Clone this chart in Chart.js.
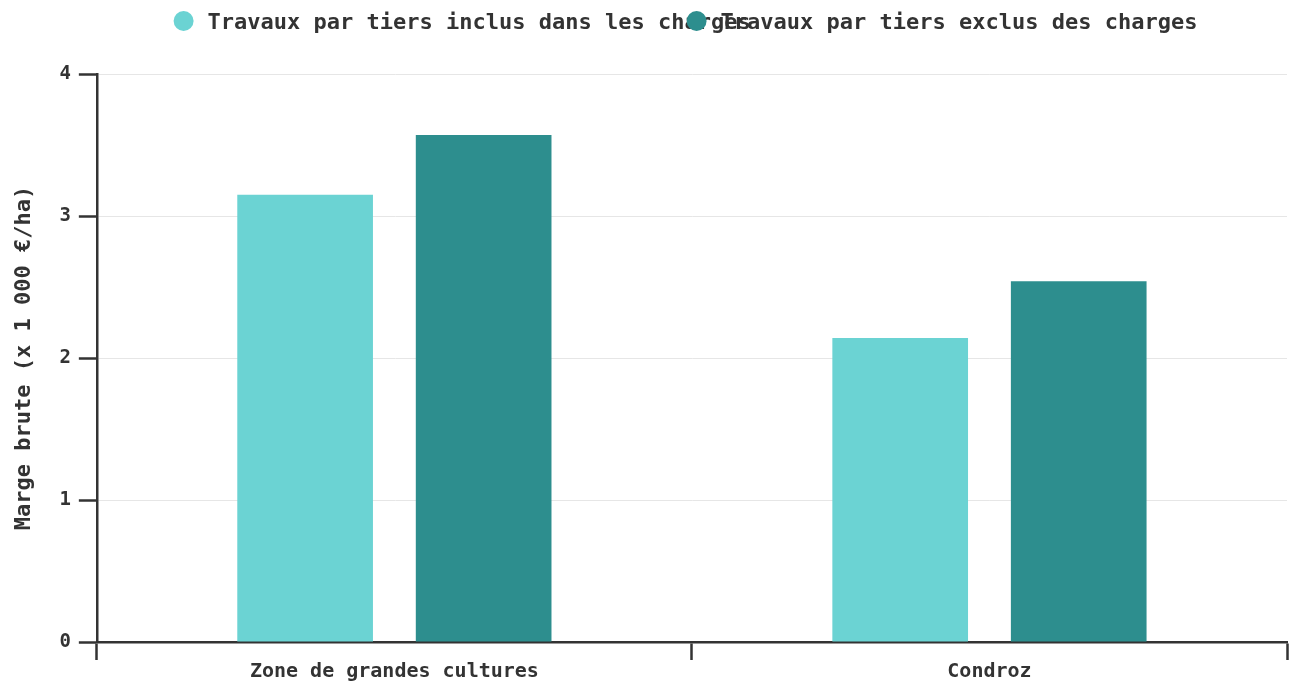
<!DOCTYPE html>
<html>
<head>
<meta charset="utf-8">
<script src="https://cdn.jsdelivr.net/npm/chart.js@4"></script>
<style>
  html, body { margin: 0; padding: 0; background: #fff; }
  #wrap { width: 1294px; height: 684px; }
</style>
</head>
<body>
<div id="wrap"><canvas id="bar-chart"></canvas></div>
<script>
const categories = ["Zone de grandes cultures", "Condroz"];
const seriesNames = ["Travaux par tiers inclus dans les charges", "Travaux par tiers exclus des charges"];
const inclusValues = [3.15, 2.14];
const exclusValues = [3.57, 2.54];
const seriesColors = ["#6bd3d3", "#2d8e8e"];
const yTicks = [0, 1, 2, 3, 4];

const FONT = "'DejaVu Sans Mono', monospace";
const TEXT = "#333333";

// legend drawn by hand: widths are measured with a smaller font than the one drawn,
// so the items run into each other like in the original
const overlapLegend = {
  id: "overlapLegend",
  afterDraw(chart) {
    const ctx = chart.ctx;
    const drawSize = 22;
    const measureSize = 19;
    const radius = 10;
    const gap = 14;
    const spacing = 10;

    ctx.save();
    ctx.font = "bold " + measureSize + "px " + FONT;
    const widths = chart.data.datasets.map(ds => 2 * radius + gap + ctx.measureText(ds.label).width);
    const total = widths.reduce((a, b) => a + b, 0) + spacing * (widths.length - 1);
    let x = (chart.width - total) / 2 + 6;
    const y = 21;

    chart.data.datasets.forEach((ds, i) => {
      ctx.fillStyle = ds.backgroundColor;
      ctx.beginPath();
      ctx.arc(x + radius, y, radius, 0, Math.PI * 2);
      ctx.fill();
      ctx.font = "bold " + drawSize + "px " + FONT;
      ctx.fillStyle = TEXT;
      ctx.textBaseline = "middle";
      ctx.textAlign = "left";
      ctx.fillText(ds.label, x + 2 * radius + gap, y + 2);
      x += widths[i] + spacing;
    });
    ctx.restore();
  },
};

const data = {
  labels: categories,
  datasets: [
    {
      label: seriesNames[0],
      data: inclusValues,
      backgroundColor: seriesColors[0],
    },
    {
      label: seriesNames[1],
      data: exclusValues,
      backgroundColor: seriesColors[1],
    },
  ],
};

const options = {
  responsive: true,
  maintainAspectRatio: false,
  animation: false,
  layout: {
    padding: { top: 74, right: 7, left: 11, bottom: 0 },
  },
  datasets: {
    bar: {
      categoryPercentage: 0.6,
      barPercentage: 0.76,
    },
  },
  scales: {
    x: {
      grid: {
        offset: true,
        drawOnChartArea: false,
        drawTicks: true,
        tickLength: 18,
        tickColor: TEXT,
        tickWidth: 2.5,
      },
      border: { color: TEXT, width: 2.5 },
      ticks: {
        color: TEXT,
        padding: 0,
        font: { family: FONT, size: 20, weight: "bold" },
      },
    },
    y: {
      min: 0,
      max: 4,
      afterBuildTicks: axis => {
        axis.ticks = yTicks.map(v => ({ value: v }));
      },
      grid: {
        color: "#e6e6e6",
        lineWidth: 1,
        tickLength: 18,
        tickColor: TEXT,
        tickWidth: 2.5,
      },
      border: { color: TEXT, width: 2.5 },
      ticks: {
        color: TEXT,
        padding: 8,
        font: { family: FONT, size: 19, weight: "bold" },
      },
      title: {
        display: true,
        text: "Marge brute (x 1 000 €/ha)",
        color: TEXT,
        padding: { top: 0, bottom: 14 },
        font: { family: FONT, size: 22, weight: "bold" },
      },
    },
  },
  plugins: {
    legend: { display: false },
    tooltip: { enabled: false },
  },
};

const config = {
  type: "bar",
  data: data,
  options: options,
  plugins: [overlapLegend],
};

const barChart = new Chart(document.getElementById("bar-chart").getContext("2d"), config);
</script>
</body>
</html>
